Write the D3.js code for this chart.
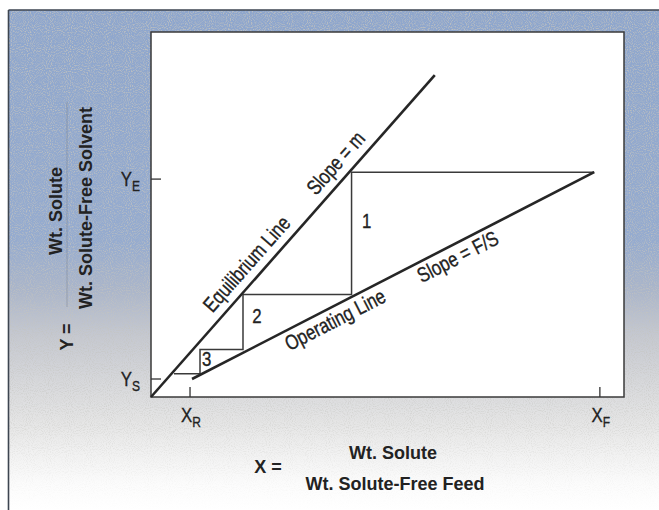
<!DOCTYPE html>
<html>
<head>
<meta charset="utf-8">
<script src="https://cdn.jsdelivr.net/npm/d3@7"></script>
<style>
  html, body { margin: 0; padding: 0; background: #fff; }
  svg { display: block; }
  .lbl { font-family: "Liberation Sans", Arial, sans-serif; fill: #222; stroke: #222; stroke-width: 0.35px; }
  .ttl { font-family: "Liberation Sans", Arial, sans-serif; font-weight: bold; fill: #222; }
</style>
</head>
<body>
<svg id="chart" width="659" height="510"></svg>
<script>
// ---------- data (normalized diagram units, 0-100 on each axis) ----------
const equilibriumX = [0, 60.0];
const equilibriumY = [0, 88.2];
const operatingX = [8.67, 93.7];
const operatingY = [4.93, 61.6];
const stairX = [93.7, 42.4, 42.4, 19.45, 19.45, 10.36, 10.36, 4.86];
const stairY = [61.6, 61.6, 28.1, 28.1, 13.0, 13.0, 6.4, 6.4];
const yTickValues = [59.7, 4.93];
const yTickMain = ["Y", "Y"];
const yTickSub = ["E", "S"];
const xTickValues = [8.25, 94.9];
const xTickMain = ["X", "X"];
const xTickSub = ["R", "F"];
const stageNames = ["1", "2", "3"];
const stageX = [44.6, 21.4, 10.8];
const stageY = [46.3, 20.3, 8.5];
const equilibriumLabels = ["Equilibrium Line", "Slope = m"];
const equilibriumLabelAt = [22.8, 41.6];
const operatingLabels = ["Operating Line", "Slope = F/S"];
const operatingLabelAt = [37.7, 63.6];
const xTitle = ["X =", "Wt. Solute", "Wt. Solute-Free Feed"];
const yTitle = ["Y =", "Wt. Solute", "Wt. Solute-Free Solvent"];

// ---------- layout ----------
const W = 659, H = 510;
const plot = { left: 151, right: 624, top: 32, bottom: 397 };
const COND = 0.8;   // horizontal condensing of the light labels
const svg = d3.select("#chart");

const x = d3.scaleLinear().domain([0, 100]).range([plot.left, plot.right]);
const y = d3.scaleLinear().domain([0, 100]).range([plot.bottom, plot.top]);

// ---------- background panel ----------
const defs = svg.append("defs");
const grad = defs.append("linearGradient").attr("id", "bg")
  .attr("gradientUnits", "userSpaceOnUse")
  .attr("x1", 0).attr("y1", 10).attr("x2", 0).attr("y2", 510);
[[0, "#8ea6cd"], [0.46, "#95abcf"], [0.56, "#aab5ca"], [0.65, "#c5c8d0"],
 [0.75, "#d8d9dc"], [0.83, "#e6e6e6"], [0.89, "#f2f2f2"], [0.95, "#fcfcfc"], [1, "#ffffff"]]
  .forEach(([o, c]) => grad.append("stop").attr("offset", o).attr("stop-color", c));

const noise = defs.append("filter").attr("id", "noise")
  .attr("x", 0).attr("y", 0).attr("width", 1).attr("height", 1);
noise.append("feTurbulence").attr("type", "fractalNoise").attr("baseFrequency", 0.95)
  .attr("numOctaves", 1).attr("seed", 3).attr("result", "t");
noise.append("feColorMatrix").attr("type", "matrix")
  .attr("values", "0 0 0 0 0.55  0 0 0 0 0.55  0 0 0 0 0.52  0 0 0 -3.2 1.75");
const fadeGrad = defs.append("linearGradient").attr("id", "fade")
  .attr("gradientUnits", "userSpaceOnUse")
  .attr("x1", 0).attr("y1", 10).attr("x2", 0).attr("y2", 510);
[[0, 1], [0.6, 0.8], [0.82, 0.5], [0.92, 0.18], [1, 0]]
  .forEach(([o, a]) => fadeGrad.append("stop").attr("offset", o).attr("stop-color", "#fff").attr("stop-opacity", a));
const mask = defs.append("mask").attr("id", "fadeMask");
mask.append("rect").attr("x", 0).attr("y", 0).attr("width", W).attr("height", H).attr("fill", "url(#fade)");

svg.append("rect").attr("x", 9).attr("y", 10).attr("width", W - 9).attr("height", H - 10)
  .attr("fill", "url(#bg)");
svg.append("rect").attr("x", 9).attr("y", 10).attr("width", W - 9).attr("height", H - 10)
  .attr("filter", "url(#noise)").attr("mask", "url(#fadeMask)").attr("opacity", 0.85);
svg.append("line").attr("x1", 8.5).attr("x2", W).attr("y1", 10).attr("y2", 10)
  .attr("stroke", "#3d4550").attr("stroke-width", 1.6);
svg.append("line").attr("x1", 8.5).attr("x2", 8.5).attr("y1", 10).attr("y2", H)
  .attr("stroke", "#3d4550").attr("stroke-width", 1.6);

// ---------- plot box ----------
svg.append("rect").attr("x", plot.left).attr("y", plot.top)
  .attr("width", plot.right - plot.left).attr("height", plot.bottom - plot.top)
  .attr("fill", "#fff").attr("stroke", "#3a3a3a").attr("stroke-width", 1.5);

// helper for condensed text
function condText(px, py, anchor, size, rot) {
  return svg.append("text").attr("class", "lbl")
    .attr("x", 0).attr("y", 0).attr("text-anchor", anchor)
    .attr("transform", `translate(${px},${py}) rotate(${rot || 0}) scale(${COND},1)`)
    .style("font-size", size + "px");
}

// ---------- ticks and tick labels ----------
yTickValues.forEach((v, i) => {
  svg.append("line").attr("x1", plot.left).attr("x2", plot.left + 10)
    .attr("y1", y(v)).attr("y2", y(v)).attr("stroke", "#333").attr("stroke-width", 1.3);
  const t = condText(plot.left - 11, y(v) + 7, "end", 21);
  t.append("tspan").text(yTickMain[i]);
  t.append("tspan").attr("dy", 5).style("font-size", "15px").text(yTickSub[i]);
});
xTickValues.forEach((v, i) => {
  svg.append("line").attr("x1", x(v)).attr("x2", x(v))
    .attr("y1", plot.bottom).attr("y2", plot.bottom - 10).attr("stroke", "#333").attr("stroke-width", 1.3);
  const t = condText(x(v) + 1, plot.bottom + 25, "middle", 21);
  t.append("tspan").text(xTickMain[i]);
  t.append("tspan").attr("dy", 5).style("font-size", "15px").text(xTickSub[i]);
});

// ---------- lines ----------
const lineGen = d3.line().x(d => x(d[0])).y(d => y(d[1]));
svg.append("path").datum(d3.zip(stairX, stairY)).attr("d", lineGen)
  .attr("fill", "none").attr("stroke", "#3a3a3a").attr("stroke-width", 1.5);
svg.append("path").datum(d3.zip(equilibriumX, equilibriumY)).attr("d", lineGen)
  .attr("fill", "none").attr("stroke", "#262626").attr("stroke-width", 2.6);
svg.append("path").datum(d3.zip(operatingX, operatingY)).attr("d", lineGen)
  .attr("fill", "none").attr("stroke", "#262626").attr("stroke-width", 2.6);

// ---------- line labels ----------
function labelAlong(xs, ys, at, offset, text) {
  const p0 = [x(xs[0]), y(ys[0])], p1 = [x(xs[1]), y(ys[1])];
  const dx = p1[0] - p0[0], dy = p1[1] - p0[1];
  const len = Math.hypot(dx, dy);
  const t = (x(at) - p0[0]) / dx;
  const fx = p0[0] + t * dx, fy = p0[1] + t * dy;
  const nx = dy / len, ny = -dx / len;      // normal pointing above the line
  const px = fx + nx * offset, py = fy + ny * offset;
  const ang = Math.atan2(dy, dx) * 180 / Math.PI;
  condText(px, py, "middle", 21, ang).text(text);
}
equilibriumLabels.forEach((s, i) => labelAlong(equilibriumX, equilibriumY, equilibriumLabelAt[i], 9, s));
operatingLabels.forEach((s, i) => labelAlong(operatingX, operatingY, operatingLabelAt[i], -20, s));

// ---------- stage numbers ----------
stageNames.forEach((s, i) => {
  condText(x(stageX[i]), y(stageY[i]), "start", 21).text(s);
});

// ---------- axis titles ----------
svg.append("text").attr("class", "ttl").attr("x", 268).attr("y", 473)
  .attr("text-anchor", "middle").style("font-size", "18px").text(xTitle[0]);
svg.append("text").attr("class", "ttl").attr("x", 393).attr("y", 459)
  .attr("text-anchor", "middle").style("font-size", "18px").text(xTitle[1]);
svg.append("text").attr("class", "ttl").attr("x", 395).attr("y", 490)
  .attr("text-anchor", "middle").style("font-size", "18px").text(xTitle[2]);

const yT = [[73, 337], [62, 211], [92, 208]];
yTitle.forEach((s, i) => {
  svg.append("text").attr("class", "ttl")
    .attr("transform", `translate(${yT[i][0]},${yT[i][1]}) rotate(-90)`)
    .attr("text-anchor", "middle").style("font-size", "18px").text(s);
});
svg.append("line").attr("x1", 67).attr("x2", 67).attr("y1", 102).attr("y2", 307)
  .attr("stroke", "#6c7380").attr("stroke-width", 0.8).attr("opacity", 0.5);
</script>
</body>
</html>
